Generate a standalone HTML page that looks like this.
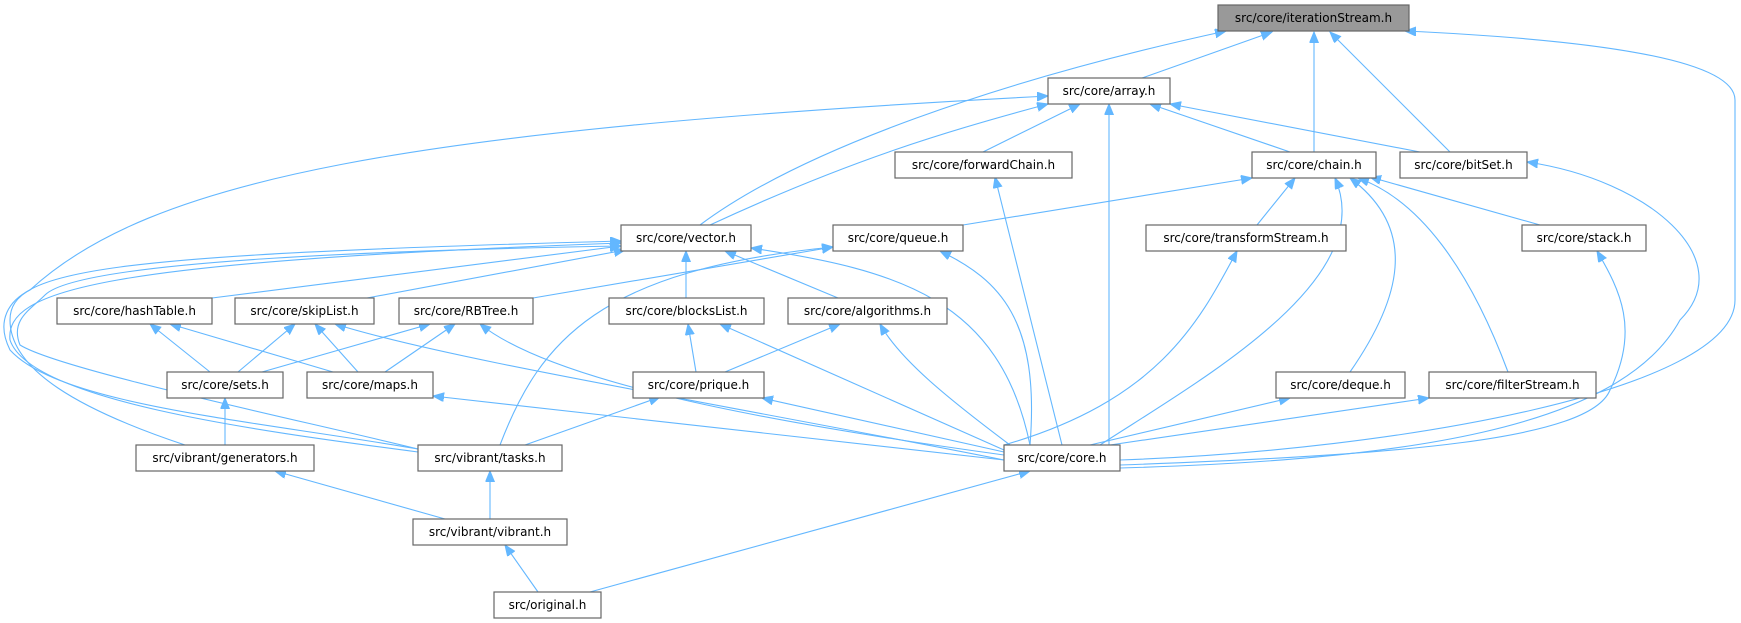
<!DOCTYPE html>
<html><head><meta charset="utf-8"><style>
html,body{margin:0;padding:0;background:#fff;}
svg{display:block;}
text{font-family:"DejaVu Sans","Liberation Sans",sans-serif;font-size:12px;fill:#000;text-anchor:middle;}
.e{fill:none;stroke:#63b7ff;stroke-width:1.1;marker-end:url(#a);}
rect{fill:#fff;stroke:#666;stroke-width:1.2;}
</style></head><body>
<svg width="1741" height="623" viewBox="0 0 1741 623" xmlns="http://www.w3.org/2000/svg">
<defs><marker id="a" markerUnits="userSpaceOnUse" markerWidth="12" markerHeight="10" refX="11" refY="4.5" orient="auto"><path d="M0,0 L11,4.5 L0,9 z" fill="#63b7ff" stroke="#63b7ff"/></marker></defs>
<g>
<path class="e" d="M700,225 C800,150 1000,80 1226,31"/>
<path class="e" d="M1142,78 L1272,32"/>
<path class="e" d="M1314,152 L1314,32"/>
<path class="e" d="M1450,152 L1330,32"/>
<path class="e" d="M1120,460 C1400,450 1735,390 1735,300 L1735,100 C1735,60 1600,40 1405,31"/>
<path class="e" d="M418,449 C250,420 60,405 10,350 C-5,320 10,300 30,290 C150,180 400,130 1048,96"/>
<path class="e" d="M710,225 C850,160 950,130 1048,104"/>
<path class="e" d="M983,152 L1080,104"/>
<path class="e" d="M1109,445 L1109,104"/>
<path class="e" d="M1290,152 L1150,104"/>
<path class="e" d="M1420,152 L1170,104"/>
<path class="e" d="M963,225 L1252,178"/>
<path class="e" d="M1257,225 L1295,178"/>
<path class="e" d="M1100,445 C1200,380 1380,280 1335,178"/>
<path class="e" d="M1350,372 C1400,300 1420,230 1350,178"/>
<path class="e" d="M1508,372 C1470,270 1420,200 1358,178"/>
<path class="e" d="M1540,225 L1370,177"/>
<path class="e" d="M1120,468 C1400,460 1620,430 1680,320 C1740,260 1650,180 1527,162"/>
<path class="e" d="M1120,465 C1400,455 1590,440 1610,390 C1640,330 1620,290 1597,251"/>
<path class="e" d="M1004,445 C1160,400 1200,320 1237,251"/>
<path class="e" d="M1030,445 C1040,320 1000,280 940,251"/>
<path class="e" d="M533,298 L833,247"/>
<path class="e" d="M500,445 C540,340 600,270 833,247"/>
<path class="e" d="M1062,445 L995,177"/>
<path class="e" d="M686,298 L686,251"/>
<path class="e" d="M838,298 L725,251"/>
<path class="e" d="M1030,445 C1000,300 900,270 751,248"/>
<path class="e" d="M212,298 L621,246"/>
<path class="e" d="M367,298 L625,250"/>
<path class="e" d="M185,445 C80,410 10,370 10,320 C10,270 100,255 621,241"/>
<path class="e" d="M418,452 C250,430 30,400 10,340 C5,290 100,262 621,243"/>
<path class="e" d="M418,449 C300,420 60,370 20,345 C10,320 30,310 45,295 C80,260 400,250 621,246"/>
<path class="e" d="M210,372 L150,324"/>
<path class="e" d="M333,372 L170,324"/>
<path class="e" d="M238,372 L295,324"/>
<path class="e" d="M358,372 L315,324"/>
<path class="e" d="M1004,460 C700,400 450,360 335,324"/>
<path class="e" d="M262,372 L430,324"/>
<path class="e" d="M385,372 L455,324"/>
<path class="e" d="M1004,455 C750,420 550,380 480,324"/>
<path class="e" d="M696,372 L688,324"/>
<path class="e" d="M1004,450 L720,324"/>
<path class="e" d="M725,372 L840,324"/>
<path class="e" d="M1010,445 C950,400 900,360 880,324"/>
<path class="e" d="M225,445 L225,398"/>
<path class="e" d="M1004,460 L433,396"/>
<path class="e" d="M525,445 L660,397"/>
<path class="e" d="M1004,452 L762,398"/>
<path class="e" d="M1090,445 L1290,398"/>
<path class="e" d="M1110,445 L1429,398"/>
<path class="e" d="M445,519 L275,471"/>
<path class="e" d="M490,519 L490,471"/>
<path class="e" d="M538,592 L505,545"/>
<path class="e" d="M590,592 L1030,471"/>
</g>
<g>
<rect x="1218" y="5" width="191" height="26" style="fill:#999"/><text x="1313.5" y="22">src/core/iterationStream.h</text>
<rect x="1048" y="78" width="122" height="26"/><text x="1109" y="95">src/core/array.h</text>
<rect x="895" y="152" width="177" height="26"/><text x="983.5" y="169">src/core/forwardChain.h</text>
<rect x="1252" y="152" width="124" height="26"/><text x="1314" y="169">src/core/chain.h</text>
<rect x="1400" y="152" width="127" height="26"/><text x="1463.5" y="169">src/core/bitSet.h</text>
<rect x="621" y="225" width="130" height="26"/><text x="686" y="242">src/core/vector.h</text>
<rect x="833" y="225" width="130" height="26"/><text x="898" y="242">src/core/queue.h</text>
<rect x="1146" y="225" width="200" height="26"/><text x="1246" y="242">src/core/transformStream.h</text>
<rect x="1522" y="225" width="124" height="26"/><text x="1584" y="242">src/core/stack.h</text>
<rect x="57" y="298" width="155" height="26"/><text x="134.5" y="315">src/core/hashTable.h</text>
<rect x="235" y="298" width="139" height="26"/><text x="304.5" y="315">src/core/skipList.h</text>
<rect x="399" y="298" width="134" height="26"/><text x="466" y="315">src/core/RBTree.h</text>
<rect x="609" y="298" width="155" height="26"/><text x="686.5" y="315">src/core/blocksList.h</text>
<rect x="788" y="298" width="159" height="26"/><text x="867.5" y="315">src/core/algorithms.h</text>
<rect x="167" y="372" width="116" height="26"/><text x="225" y="389">src/core/sets.h</text>
<rect x="307" y="372" width="126" height="26"/><text x="370" y="389">src/core/maps.h</text>
<rect x="633" y="372" width="131" height="26"/><text x="698.5" y="389">src/core/prique.h</text>
<rect x="1276" y="372" width="129" height="26"/><text x="1340.5" y="389">src/core/deque.h</text>
<rect x="1429" y="372" width="167" height="26"/><text x="1512.5" y="389">src/core/filterStream.h</text>
<rect x="136" y="445" width="178" height="26"/><text x="225" y="462">src/vibrant/generators.h</text>
<rect x="418" y="445" width="144" height="26"/><text x="490" y="462">src/vibrant/tasks.h</text>
<rect x="1004" y="445" width="116" height="26"/><text x="1062" y="462">src/core/core.h</text>
<rect x="413" y="519" width="154" height="26"/><text x="490" y="536">src/vibrant/vibrant.h</text>
<rect x="494" y="592" width="107" height="26"/><text x="547.5" y="609">src/original.h</text>
</g>
</svg>
</body></html>
